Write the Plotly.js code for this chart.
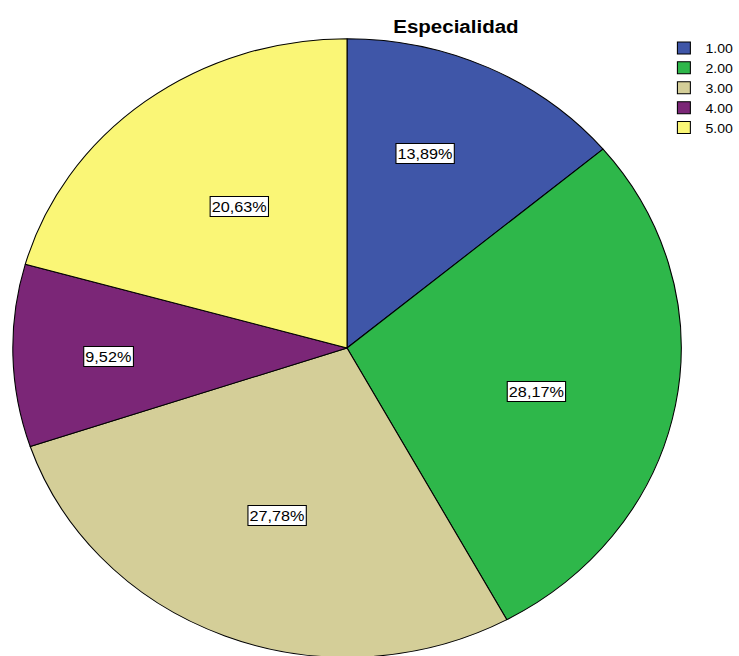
<!DOCTYPE html>
<html>
<head>
<meta charset="utf-8">
<script src="https://cdn.plot.ly/plotly-3.0.1.min.js"></script>
<style>
html,body{margin:0;padding:0;overflow:hidden;background:#fff;width:739px;height:656px;}
#chart{width:684px;height:700px;transform:scaleX(1.0804);transform-origin:0 0;}
</style>
</head>
<body>
<div id="chart"></div>
<script>
// Data
const categories = ["1.00", "2.00", "3.00", "4.00", "5.00"];
const counts = [35, 71, 70, 24, 52];
const sliceColors = ["#3F56A8", "#2EB74A", "#D4CE98", "#7B2677", "#FAF676"];
const chartTitle = "Especialidad";

// Style: label placement (fraction of radius, fraction along slice)
const labelRadius = [0.67, 0.59, 0.58, 0.72, 0.56];
const labelAngleFrac = [0.41, 0.53, 0.50, 0.48, 0.52];

const W = 684, H = 700;
const cxPx = 325, cyPx = 348, Rdom = 313, R = 310;
const dom = {
  x: [(cxPx - Rdom) / W, (cxPx + Rdom) / W],
  y: [(H - cyPx - Rdom) / H, (H - cyPx + Rdom) / H]
};
const cxP = (dom.x[0] + dom.x[1]) / 2, cyP = (dom.y[0] + dom.y[1]) / 2;

const total = counts.reduce((a, b) => a + b, 0);
const pctText = counts.map(v => (v / total * 100).toFixed(2).replace('.', ',') + '%');

const annotations = [];
let cum = 0;
counts.forEach((v, i) => {
  const ang = (cum + v * labelAngleFrac[i]) / total * 2 * Math.PI;
  cum += v;
  const r = labelRadius[i] * R;
  annotations.push({
    xref: 'paper', yref: 'paper',
    x: cxP + r * Math.sin(ang) / W,
    y: cyP + r * Math.cos(ang) / H,
    text: pctText[i], showarrow: false,
    xanchor: 'center', yanchor: 'middle',
    font: {family: 'Liberation Sans, Arial, sans-serif', size: 15, color: '#000'},
    bgcolor: '#fff', bordercolor: '#000', borderwidth: 1, borderpad: 1
  });
});

const trace = {
  type: 'pie',
  labels: categories,
  values: counts,
  sort: false,
  direction: 'clockwise',
  rotation: 0,
  textinfo: 'none',
  hoverinfo: 'label+percent',
  marker: {colors: sliceColors, line: {color: '#000', width: 1}},
  domain: dom
};

const layout = {
  width: W, height: H,
  margin: {l: 0, r: 0, t: 0, b: 0},
  paper_bgcolor: '#fff',
  title: {
    text: '<b>' + chartTitle + '</b>',
    x: 427 / W, xanchor: 'center', xref: 'paper',
    y: 1 - 26 / H, yanchor: 'middle', yref: 'container',
    font: {family: 'Liberation Sans, Arial, sans-serif', size: 19, color: '#000'}
  },
  showlegend: true,
  legend: {
    x: 0.907, xanchor: 'left', y: 1 - 33 / H, yanchor: 'top',
    font: {family: 'Liberation Sans, Arial, sans-serif', size: 13, color: '#000'},
    bgcolor: 'rgba(0,0,0,0)', tracegroupgap: 0
  },
  annotations: annotations
};

Plotly.newPlot('chart', [trace], layout, {displayModeBar: false, staticPlot: true});
</script>
</body>
</html>
